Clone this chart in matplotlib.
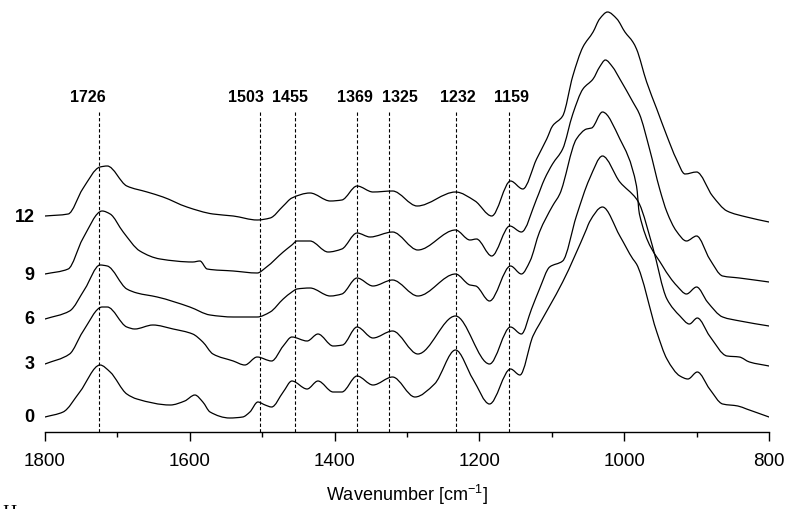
import matplotlib
matplotlib.use("Agg")
import matplotlib.pyplot as plt
from matplotlib.ticker import MultipleLocator
from matplotlib.path import Path
from matplotlib.patches import PathPatch

plt.rcParams['font.family'] = ['Liberation Sans', 'DejaVu Sans']
plt.rcParams['mathtext.fontset'] = 'custom'
plt.rcParams['mathtext.rm'] = 'Liberation Sans'

# ---- data (wavenumber in cm^-1, stacked absorbance in a.u.) ----
wn_0 = [1800, 1775, 1752, 1724, 1710, 1687, 1673, 1627, 1607, 1593, 1582, 1572, 1545, 1527, 1517,
        1506, 1496, 1487, 1471, 1459, 1438, 1423, 1402, 1390, 1369, 1347, 1320, 1289, 1262, 1233,
        1209, 1186, 1157, 1144, 1126, 1117, 1103, 1085, 1052, 1048, 1030, 1006, 988, 983, 955,
        941, 923, 912, 899, 882, 864, 843, 831, 800]
ab_0 = [0.15, 0.20, 0.40, 0.67, 0.60, 0.38, 0.33, 0.27, 0.31, 0.37, 0.30, 0.20, 0.14, 0.15, 0.20,
        0.30, 0.27, 0.25, 0.40, 0.51, 0.43, 0.51, 0.40, 0.40, 0.56, 0.47, 0.55, 0.35, 0.48, 0.82,
        0.53, 0.28, 0.63, 0.57, 0.96, 1.08, 1.26, 1.50, 2.03, 2.10, 2.25, 1.96, 1.73, 1.68, 1.00,
        0.73, 0.56, 0.53, 0.60, 0.43, 0.28, 0.26, 0.23, 0.15]

wn_3 = [1800, 1766, 1748, 1721, 1714, 1687, 1676, 1651, 1623, 1596, 1582, 1568, 1540, 1524, 1507,
        1487, 1471, 1459, 1438, 1423, 1402, 1389, 1369, 1347, 1320, 1285, 1233, 1186, 1157, 1142,
        1128, 1117, 1103, 1085, 1066, 1048, 1030, 1006, 983, 979, 961, 941, 923, 910, 899, 882,
        858, 841, 827, 800]
ab_3 = [0.68, 0.78, 1.00, 1.25, 1.25, 1.05, 1.03, 1.07, 1.03, 0.98, 0.90, 0.78, 0.71, 0.67, 0.75,
        0.71, 0.86, 0.95, 0.91, 0.98, 0.86, 0.87, 1.05, 0.94, 1.01, 0.78, 1.16, 0.68, 1.05, 0.98,
        1.23, 1.43, 1.65, 1.71, 2.16, 2.53, 2.76, 2.50, 2.33, 2.28, 1.86, 1.33, 1.16, 1.08, 1.14, 0.96,
        0.76, 0.75, 0.70, 0.66]

wn_6 = [1800, 1766, 1745, 1724, 1714, 1687, 1673, 1645, 1600, 1572, 1540, 1507, 1489, 1471, 1459,
        1452, 1434, 1406, 1390, 1369, 1347, 1320, 1285, 1233, 1213, 1205, 1186, 1157, 1142, 1130,
        1117, 1099, 1089, 1066, 1052, 1045, 1030, 1006, 983, 979, 947, 927, 914, 900, 885, 864,
        840, 800]
ab_6 = [1.13, 1.21, 1.43, 1.67, 1.66, 1.43, 1.39, 1.35, 1.25, 1.17, 1.15, 1.15, 1.20, 1.33, 1.40,
        1.43, 1.44, 1.36, 1.38, 1.54, 1.46, 1.52, 1.36, 1.58, 1.47, 1.46, 1.31, 1.66, 1.58, 1.71,
        2.00, 2.26, 2.38, 2.93, 3.03, 3.04, 3.20, 2.93, 2.46, 2.18, 1.66, 1.46, 1.38, 1.45, 1.30, 1.15,
        1.11, 1.06]

wn_9 = [1800, 1768, 1748, 1721, 1710, 1692, 1669, 1641, 1596, 1586, 1576, 1540, 1507, 1494, 1471,
        1459, 1452, 1434, 1409, 1390, 1369, 1351, 1320, 1285, 1233, 1213, 1204, 1183, 1158, 1142,
        1121, 1110, 1099, 1085, 1071, 1057, 1043, 1034, 1026, 1016, 1006, 988, 979, 965, 951, 941,
        928, 914, 900, 882, 864, 841, 800]
ab_9 = [1.58, 1.63, 1.93, 2.21, 2.18, 2.00, 1.81, 1.73, 1.70, 1.71, 1.63, 1.61, 1.59, 1.65, 1.80,
        1.87, 1.91, 1.91, 1.80, 1.83, 1.99, 1.95, 2.00, 1.82, 2.02, 1.92, 1.93, 1.76, 2.06, 2.00,
        2.33, 2.53, 2.68, 2.83, 3.18, 3.43, 3.53, 3.65, 3.72, 3.65, 3.53, 3.30, 3.18, 2.83, 2.43, 2.20,
        2.01, 1.91, 1.96, 1.73, 1.56, 1.54, 1.50]

wn_12 = [1800, 1768, 1748, 1724, 1714, 1687, 1659, 1637, 1604, 1568, 1540, 1507, 1489, 1471, 1459,
         1434, 1406, 1390, 1369, 1347, 1320, 1286, 1233, 1206, 1183, 1157, 1140, 1121, 1107, 1099,
         1085, 1071, 1057, 1043, 1034, 1023, 1010, 999, 988, 983, 969, 955, 941, 928, 916, 900,
         878, 858, 831, 800]
ab_12 = [2.16, 2.18, 2.43, 2.65, 2.66, 2.46, 2.40, 2.35, 2.25, 2.18, 2.16, 2.12, 2.14, 2.26, 2.34,
         2.39, 2.31, 2.32, 2.46, 2.40, 2.41, 2.26, 2.40, 2.31, 2.16, 2.51, 2.43, 2.73, 2.93, 3.06,
         3.16, 3.56, 3.85, 4.00, 4.13, 4.20, 4.13, 4.00, 3.90, 3.83, 3.50, 3.23, 2.96, 2.73, 2.58, 2.60,
         2.36, 2.21, 2.15, 2.10]

series_labels = ["0", "3", "6", "9", "12"]
series_wn = [wn_0, wn_3, wn_6, wn_9, wn_12]
series_ab = [ab_0, ab_3, ab_6, ab_9, ab_12]

peak_positions = [1726, 1503, 1455, 1369, 1325, 1232, 1159]
peak_labels = ["1726", "1503", "1455", "1369", "1325", "1232", "1159"]
# layout: where each peak label text is centred (wavenumber units)
peak_label_x = [1741, 1523, 1461, 1372, 1310, 1230, 1155]


def smooth_path(xs, ys):
    """Smooth (monotone cubic Hermite) Bezier path through the given points."""
    n = len(xs)
    h = [xs[k + 1] - xs[k] for k in range(n - 1)]
    d = [(ys[k + 1] - ys[k]) / h[k] for k in range(n - 1)]
    m = [0.0] * n
    m[0], m[-1] = d[0], d[-1]
    for k in range(1, n - 1):
        if d[k - 1] * d[k] <= 0:
            m[k] = 0.0
        else:
            w1 = 2 * h[k] + h[k - 1]
            w2 = h[k] + 2 * h[k - 1]
            m[k] = (w1 + w2) / (w1 / d[k - 1] + w2 / d[k])
    verts = [(xs[0], ys[0])]
    codes = [Path.MOVETO]
    for k in range(n - 1):
        verts += [(xs[k] + h[k] / 3, ys[k] + m[k] * h[k] / 3),
                  (xs[k + 1] - h[k] / 3, ys[k + 1] - m[k + 1] * h[k] / 3),
                  (xs[k + 1], ys[k + 1])]
        codes += [Path.CURVE4] * 3
    return Path(verts, codes)


# ---- figure ----
fig = plt.figure(figsize=(7.91, 5.10), dpi=100)
ax = fig.add_axes([45 / 791, 77 / 510, 724 / 791, 428 / 510])
ax.set_xlim(1800, 800)
ax.set_ylim(0, 4.28)

for wn, ab, lab in zip(series_wn, series_ab, series_labels):
    p = smooth_path(wn, ab)
    ax.add_patch(PathPatch(p, facecolor='none', edgecolor='black', lw=0.9,
                           joinstyle='round', capstyle='round'))
    ax.text(1814, ab[0], lab, ha='right', va='center', fontsize=13,
            fontweight='bold', clip_on=False)

for pos, lx, lab in zip(peak_positions, peak_label_x, peak_labels):
    ax.plot([pos, pos], [0, 3.20], color='black', lw=0.8, linestyle=(0, (3, 2)))
    ax.text(lx, 3.36, lab, ha='center', va='center', fontsize=11.5, fontweight='bold')

for s in ['top', 'right', 'left']:
    ax.spines[s].set_visible(False)
ax.spines['bottom'].set_linewidth(1.0)
ax.set_yticks([])
ax.xaxis.set_major_locator(MultipleLocator(200))
ax.xaxis.set_minor_locator(MultipleLocator(100))
ax.tick_params(axis='x', which='major', direction='out', length=6.5, width=1.0,
               labelsize=13.5, pad=8)
ax.tick_params(axis='x', which='minor', direction='out', length=3.6, width=1.0)
ax.set_xlabel("Wavenumber [cm$^{\\mathregular{-1}}$]", fontsize=13, labelpad=9)

fig.text(0.003, -0.016, "H", family='Liberation Serif', fontsize=14, ha='left', va='baseline')

fig.savefig("out.png", dpi=100)
